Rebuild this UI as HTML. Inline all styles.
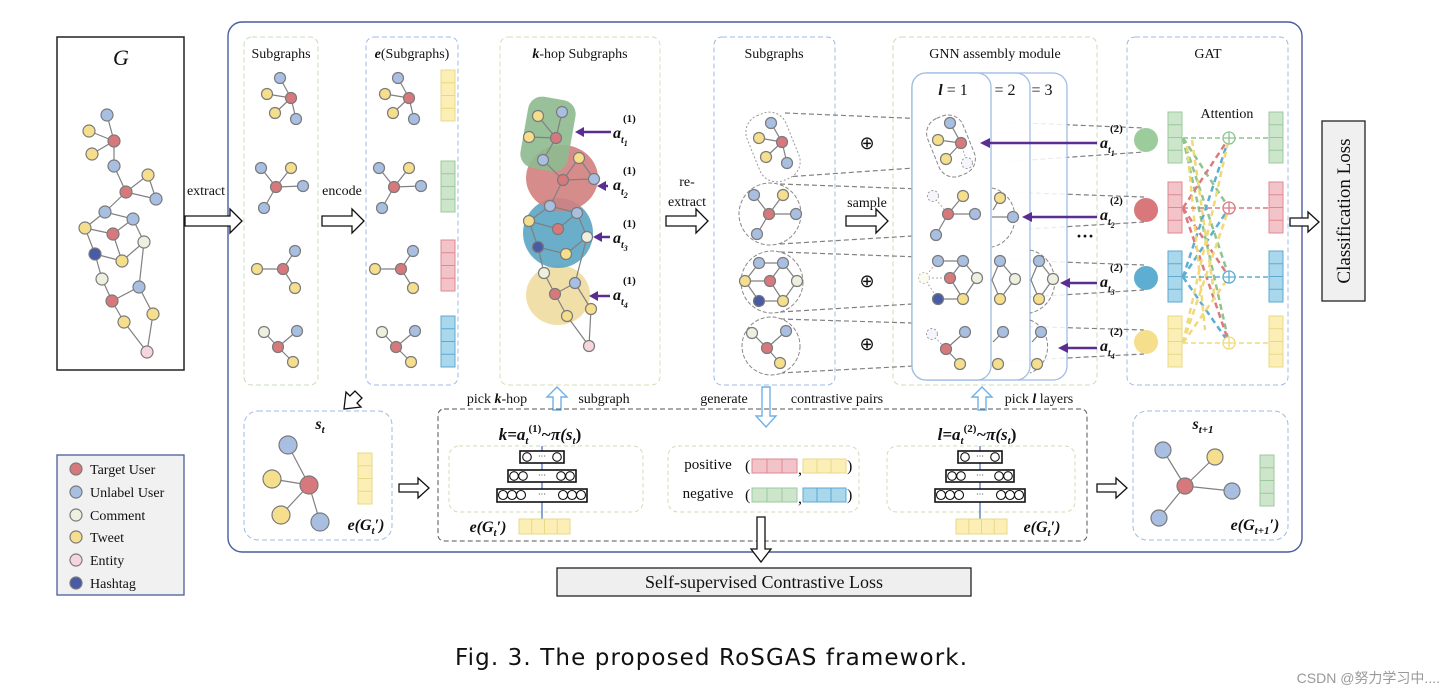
<!DOCTYPE html>
<html><head><meta charset="utf-8"><style>
html,body{margin:0;padding:0;background:#fff}
svg{display:block}
text{font-family:"Liberation Serif",serif;fill:#111}
.n{stroke:#7a7a7a;stroke-width:1.2}
.r{fill:#d7797c}.b{fill:#a9bfe2}.c{fill:#eef0df}.y{fill:#f6df8c}.e{fill:#f6d6dc}.h{fill:#4a5ba6}
.d{fill:#fff;stroke:#999;stroke-dasharray:2 2}
.ed{stroke:#808080;stroke-width:1.2;fill:none}
.ha{fill:#fff;stroke:#111;stroke-width:1.3}
.hb{fill:#fff;stroke:#6fb0e6;stroke-width:1.4}
.gd{fill:none;stroke:#808080;stroke-width:1.2;stroke-dasharray:5 3}
</style></head><body>
<svg width="1454" height="694" viewBox="0 0 1454 694" xmlns="http://www.w3.org/2000/svg">
<defs>
<g id="barY"><rect x="0" y="0" width="14" height="51" fill="#fbefb6" stroke="#ead888"/><path d="M0 12.75H14M0 25.5H14M0 38.25H14" stroke="#ead888"/></g>
<g id="barG"><rect x="0" y="0" width="14" height="51" fill="#cce5cb" stroke="#9cc99c"/><path d="M0 12.75H14M0 25.5H14M0 38.25H14" stroke="#9cc99c"/></g>
<g id="barR"><rect x="0" y="0" width="14" height="51" fill="#f2c4ca" stroke="#dc8a90"/><path d="M0 12.75H14M0 25.5H14M0 38.25H14" stroke="#dc8a90"/></g>
<g id="barB"><rect x="0" y="0" width="14" height="51" fill="#a9d7ec" stroke="#5fa9cf"/><path d="M0 12.75H14M0 25.5H14M0 38.25H14" stroke="#5fa9cf"/></g>
<g id="hbarY"><rect x="0" y="0" width="51" height="15" fill="#fbefb6" stroke="#ead888"/><path d="M12.75 0V15M25.5 0V15M38.25 0V15" stroke="#ead888"/></g>
<g id="s1"><path class="ed" d="M-11 -20L0 0M-24 -4L0 0M-16 15L0 0M5 21L0 0"/><circle class="n b" cx="-11" cy="-20" r="5.5"/><circle class="n y" cx="-24" cy="-4" r="5.5"/><circle class="n r" cx="0" cy="0" r="5.5"/><circle class="n y" cx="-16" cy="15" r="5.5"/><circle class="n b" cx="5" cy="21" r="5.5"/></g>
<g id="s2"><path class="ed" d="M-15 -19L0 0M15 -19L0 0M27 -1L0 0M-12 21L0 0"/><circle class="n b" cx="-15" cy="-19" r="5.5"/><circle class="n y" cx="15" cy="-19" r="5.5"/><circle class="n r" cx="0" cy="0" r="5.5"/><circle class="n b" cx="27" cy="-1" r="5.5"/><circle class="n b" cx="-12" cy="21" r="5.5"/></g>
<g id="s3"><path class="ed" d="M12 -18L0 0M-26 0L0 0M12 19L0 0"/><circle class="n b" cx="12" cy="-18" r="5.5"/><circle class="n y" cx="-26" cy="0" r="5.5"/><circle class="n r" cx="0" cy="0" r="5.5"/><circle class="n y" cx="12" cy="19" r="5.5"/></g>
<g id="s4"><path class="ed" d="M-14 -15L0 0M19 -16L0 0M15 15L0 0"/><circle class="n c" cx="-14" cy="-15" r="5.5"/><circle class="n b" cx="19" cy="-16" r="5.5"/><circle class="n r" cx="0" cy="0" r="5.5"/><circle class="n y" cx="15" cy="15" r="5.5"/></g>
</defs>

<!-- G box -->
<rect x="57" y="37" width="127" height="333" fill="#fff" stroke="#222" stroke-width="1.5"/>
<text x="121" y="65" font-size="22" font-style="italic" text-anchor="middle">G</text>
<g class="ed">
<path d="M107 115L114 141M89 131L114 141M92 154L114 141M114 141L114 166M114 166L126 192M126 192L148 175M148 175L156 199M126 192L156 199M126 192L105 212M105 212L133 219M105 212L85 228M85 228L113 234M133 219L113 234M133 219L144 242M113 234L122 261M85 228L95 254M95 254L122 261M122 261L144 242M144 242L139 287M95 254L102 279M102 279L112 301M112 301L139 287M112 301L124 322M139 287L153 314M153 314L147 352M124 322L147 352"/>
</g>
<g>
<circle class="n b" cx="107" cy="115" r="6"/><circle class="n y" cx="89" cy="131" r="6"/><circle class="n r" cx="114" cy="141" r="6"/><circle class="n y" cx="92" cy="154" r="6"/><circle class="n b" cx="114" cy="166" r="6"/><circle class="n r" cx="126" cy="192" r="6"/><circle class="n y" cx="148" cy="175" r="6"/><circle class="n b" cx="156" cy="199" r="6"/><circle class="n b" cx="105" cy="212" r="6"/><circle class="n b" cx="133" cy="219" r="6"/><circle class="n y" cx="85" cy="228" r="6"/><circle class="n r" cx="113" cy="234" r="6"/><circle class="n c" cx="144" cy="242" r="6"/><circle class="n h" cx="95" cy="254" r="6"/><circle class="n y" cx="122" cy="261" r="6"/><circle class="n c" cx="102" cy="279" r="6"/><circle class="n b" cx="139" cy="287" r="6"/><circle class="n r" cx="112" cy="301" r="6"/><circle class="n y" cx="124" cy="322" r="6"/><circle class="n y" cx="153" cy="314" r="6"/><circle class="n e" cx="147" cy="352" r="6"/>
</g>

<!-- main big box -->
<rect x="228" y="22" width="1074" height="530" rx="14" fill="none" stroke="#4a5c9e" stroke-width="1.4"/>

<!-- column boxes -->
<rect x="244" y="37" width="74" height="348" rx="8" fill="none" stroke="#c8dcb8" stroke-dasharray="5 3"/>
<rect x="366" y="37" width="92" height="348" rx="8" fill="none" stroke="#9dbbe4" stroke-dasharray="5 3"/>
<rect x="500" y="37" width="160" height="348" rx="8" fill="none" stroke="#d8dcb8" stroke-dasharray="5 3"/>
<rect x="714" y="37" width="121" height="348" rx="8" fill="none" stroke="#9dbbe4" stroke-dasharray="5 3"/>
<rect x="893" y="37" width="204" height="348" rx="8" fill="none" stroke="#c8dcb0" stroke-dasharray="5 3"/>
<rect x="1127" y="37" width="161" height="348" rx="8" fill="none" stroke="#9dbbe4" stroke-dasharray="5 3"/>

<text x="281" y="58" font-size="14" text-anchor="middle">Subgraphs</text>
<text x="412" y="58" font-size="14" text-anchor="middle"><tspan font-weight="bold" font-style="italic">e</tspan>(Subgraphs)</text>
<text x="580" y="58" font-size="14" text-anchor="middle"><tspan font-weight="bold" font-style="italic">k</tspan>-hop Subgraphs</text>
<text x="774" y="58" font-size="14" text-anchor="middle">Subgraphs</text>
<text x="995" y="58" font-size="14" text-anchor="middle">GNN assembly module</text>
<text x="1208" y="58" font-size="14" text-anchor="middle">GAT</text>

<!-- subgraphs col -->
<use href="#s1" x="291" y="98"/><use href="#s2" x="276" y="187"/><use href="#s3" x="283" y="269"/><use href="#s4" x="278" y="347"/>
<use href="#s1" x="409" y="98"/><use href="#s2" x="394" y="187"/><use href="#s3" x="401" y="269"/><use href="#s4" x="396" y="347"/>
<use href="#barY" x="441" y="70"/><use href="#barG" x="441" y="161"/><use href="#barR" x="441" y="240"/><use href="#barB" x="441" y="316"/>

<!-- arrows extract / encode / re-extract -->
<polygon class="ha" points="185,216 230,216 230,209 242,221 230,233 230,226 185,226"/>
<text x="206" y="195" font-size="14" text-anchor="middle">extract</text>
<polygon class="ha" points="322,216 352,216 352,209 364,221 352,233 352,226 322,226"/>
<text x="342" y="195" font-size="14" text-anchor="middle">encode</text>
<polygon class="ha" points="666,216 696,216 696,209 708,221 696,233 696,226 666,226"/>
<text x="687" y="186" font-size="14" text-anchor="middle">re-</text>
<text x="687" y="206" font-size="14" text-anchor="middle">extract</text>

<!-- k-hop blobs -->
<ellipse cx="558" cy="295" rx="32" ry="30" fill="#efdca0" opacity="0.9"/>
<circle cx="558" cy="233" r="35" fill="#5aa5c4" opacity="0.9"/>
<ellipse cx="562" cy="178" rx="36" ry="33" fill="#d37f80" opacity="0.9"/>
<rect x="524" y="98" width="48" height="72" rx="14" fill="#8fbb90" opacity="0.92" transform="rotate(10 548 134)"/>
<path class="ed" d="M538 116L556 138M562 112L556 138M529 137L556 138M556 138L543 160M543 160L563 180M579 158L563 180M579 158L594 179M563 180L594 179M563 180L550 206M550 206L529 221M550 206L577 213M529 221L558 229M577 213L558 229M577 213L587 237M529 221L538 247M538 247L566 254M566 254L587 237M538 247L544 273M587 237L575 283M544 273L555 294M555 294L575 283M555 294L567 316M575 283L591 309M591 309L589 346M567 316L589 346"/>
<g>
<circle class="n y" cx="538" cy="116" r="5.5"/><circle class="n b" cx="562" cy="112" r="5.5"/><circle class="n y" cx="529" cy="137" r="5.5"/><circle class="n r" cx="556" cy="138" r="5.5"/><circle class="n b" cx="543" cy="160" r="5.5"/><circle class="n y" cx="579" cy="158" r="5.5"/><circle class="n r" cx="563" cy="180" r="5.5"/><circle class="n b" cx="594" cy="179" r="5.5"/><circle class="n b" cx="550" cy="206" r="5.5"/><circle class="n b" cx="577" cy="213" r="5.5"/><circle class="n y" cx="529" cy="221" r="5.5"/><circle class="n r" cx="558" cy="229" r="5.5"/><circle class="n c" cx="587" cy="237" r="5.5"/><circle class="n h" cx="538" cy="247" r="5.5"/><circle class="n y" cx="566" cy="254" r="5.5"/><circle class="n c" cx="544" cy="273" r="5.5"/><circle class="n b" cx="575" cy="283" r="5.5"/><circle class="n r" cx="555" cy="294" r="5.5"/><circle class="n y" cx="591" cy="309" r="5.5"/><circle class="n y" cx="567" cy="316" r="5.5"/><circle class="n e" cx="589" cy="346" r="5.5"/>
</g>
<g stroke="#5b2d91" stroke-width="2.5" fill="#5b2d91">
<path d="M611 132H582"/><polygon points="575,132 584,127 584,137" stroke="none"/>
<path d="M608 186H603"/><polygon points="597,186 606,181 606,191" stroke="none"/>
<path d="M610 237H600"/><polygon points="593,237 602,232 602,242" stroke="none"/>
<path d="M610 296H596"/><polygon points="589,296 598,291 598,301" stroke="none"/>
</g>
<g font-size="16" font-weight="bold" font-style="italic">
<text x="613" y="138">a<tspan font-size="10" dy="5">t</tspan><tspan font-size="8" dy="3">1</tspan></text><text x="623" y="122" font-size="11" font-style="normal">(1)</text>
<text x="613" y="190">a<tspan font-size="10" dy="5">t</tspan><tspan font-size="8" dy="3">2</tspan></text><text x="623" y="174" font-size="11" font-style="normal">(1)</text>
<text x="613" y="243">a<tspan font-size="10" dy="5">t</tspan><tspan font-size="8" dy="3">3</tspan></text><text x="623" y="227" font-size="11" font-style="normal">(1)</text>
<text x="613" y="300">a<tspan font-size="10" dy="5">t</tspan><tspan font-size="8" dy="3">4</tspan></text><text x="623" y="284" font-size="11" font-style="normal">(1)</text>
</g>

<!-- tubes dashed to GAT circles -->
<g class="gd">
<path d="M785 113L1144 128M785 177L1144 152"/>
<path d="M780 184L1144 197M780 244L1144 222"/>
<path d="M780 252L1144 265M780 312L1144 290"/>
<path d="M780 319L1144 330M780 373L1144 354"/>
</g>

<!-- subgraphs 2 col -->
<rect x="752" y="112" width="42" height="70" rx="18" class="d" transform="rotate(-22 773 147)" fill="#fff" stroke="#888" stroke-dasharray="4 2"/>
<circle cx="770" cy="214" r="31" fill="#fff" stroke="#888" stroke-dasharray="4 2"/>
<circle cx="772" cy="282" r="31" fill="#fff" stroke="#888" stroke-dasharray="4 2"/>
<circle cx="771" cy="346" r="29" fill="#fff" stroke="#888" stroke-dasharray="4 2"/>
<path class="ed" d="M771 123L782 142M759 138L782 142M766 157L782 142M787 163L782 142"/>
<circle class="n b" cx="771" cy="123" r="5.5"/><circle class="n y" cx="759" cy="138" r="5.5"/><circle class="n r" cx="782" cy="142" r="5.5"/><circle class="n y" cx="766" cy="157" r="5.5"/><circle class="n b" cx="787" cy="163" r="5.5"/>
<path class="ed" d="M754 195L769 214M783 195L769 214M796 214L769 214M757 234L769 214"/>
<circle class="n b" cx="754" cy="195" r="5.5"/><circle class="n y" cx="783" cy="195" r="5.5"/><circle class="n r" cx="769" cy="214" r="5.5"/><circle class="n b" cx="796" cy="214" r="5.5"/><circle class="n b" cx="757" cy="234" r="5.5"/>
<path class="ed" d="M759 263H783M759 263L745 281M745 281L759 301M759 301H783M783 263L797 281M797 281L783 301M745 281H770M770 281L783 263M770 281L783 301"/>
<circle class="n b" cx="759" cy="263" r="5.5"/><circle class="n b" cx="783" cy="263" r="5.5"/><circle class="n y" cx="745" cy="281" r="5.5"/><circle class="n r" cx="770" cy="281" r="5.5"/><circle class="n c" cx="797" cy="281" r="5.5"/><circle class="n h" cx="759" cy="301" r="5.5"/><circle class="n y" cx="783" cy="301" r="5.5"/>
<path class="ed" d="M752 333L767 348M786 331L767 348M780 363L767 348"/>
<circle class="n c" cx="752" cy="333" r="5.5"/><circle class="n b" cx="786" cy="331" r="5.5"/><circle class="n r" cx="767" cy="348" r="5.5"/><circle class="n y" cx="780" cy="363" r="5.5"/>
<g font-size="18" fill="#444" text-anchor="middle"><text x="867" y="149">⊕</text><text x="867" y="287">⊕</text><text x="867" y="350">⊕</text></g>
<text x="867" y="207" font-size="14" text-anchor="middle">sample</text>
<polygon class="ha" points="846,216 876,216 876,209 888,221 876,233 876,226 846,226"/>

<!-- l panels -->
<rect x="912" y="73" width="155" height="307" rx="14" fill="#fff" fill-opacity="0.85" stroke="#9fbde3" stroke-width="1.3"/>
<rect x="912" y="73" width="118" height="307" rx="14" fill="#fff" fill-opacity="0.85" stroke="#9fbde3" stroke-width="1.3"/>
<rect x="912" y="73" width="79" height="307" rx="14" fill="#fff" fill-opacity="0.85" stroke="#9fbde3" stroke-width="1.3"/>
<text x="953" y="95" font-size="16" text-anchor="middle"><tspan font-weight="bold" font-style="italic">l</tspan> = 1</text>
<text x="1005" y="95" font-size="16" text-anchor="middle">= 2</text>
<text x="1042" y="95" font-size="16" text-anchor="middle">= 3</text>
<!-- l row1 -->
<rect x="932" y="115" width="38" height="62" rx="16" fill="none" stroke="#888" stroke-dasharray="4 2" transform="rotate(-22 951 146)"/>
<path class="ed" d="M950 123L961 143M938 140L961 143M946 159L961 143"/><path d="M961 143L967 163" stroke="#aaa" stroke-dasharray="2 2"/>
<circle class="n b" cx="950" cy="123" r="5.5"/><circle class="n y" cx="938" cy="140" r="5.5"/><circle class="n r" cx="961" cy="143" r="5.5"/><circle class="n y" cx="946" cy="159" r="5.5"/><circle cx="967" cy="163" r="5.5" fill="#f4f6fb" stroke="#999" stroke-dasharray="2 2"/>
<!-- row2 -->
<path class="ed" d="M963 196L948 214M975 214H948M936 235L948 214"/><path d="M933 196L948 214" stroke="#aaa" stroke-dasharray="2 2"/>
<circle cx="933" cy="196" r="5.5" fill="#f4f6fb" stroke="#999" stroke-dasharray="2 2"/><circle class="n y" cx="963" cy="196" r="5.5"/><circle class="n r" cx="948" cy="214" r="5.5"/><circle class="n b" cx="975" cy="214" r="5.5"/><circle class="n b" cx="936" cy="235" r="5.5"/>
<path d="M992 188A28 30 0 0 1 992 247" fill="none" stroke="#888" stroke-dasharray="4 2"/>
<path class="ed" d="M1000 198L993 210M1013 217H992"/><circle class="n y" cx="1000" cy="198" r="5.5"/><circle class="n b" cx="1013" cy="217" r="5.5"/>
<!-- row3 -->
<path class="ed" d="M938 261H963M963 261L977 278M977 278L963 299M963 299H938M950 278L963 261M950 278L963 299"/><path d="M924 278H950M924 278L938 261M924 278L938 299" stroke="#aaa" stroke-dasharray="2 2"/>
<circle class="n b" cx="938" cy="261" r="5.5"/><circle class="n b" cx="963" cy="261" r="5.5"/><circle cx="924" cy="278" r="5.5" fill="#fbfbef" stroke="#bbb" stroke-dasharray="2 2"/><circle class="n r" cx="950" cy="278" r="5.5"/><circle class="n c" cx="977" cy="278" r="5.5"/><circle class="n h" cx="938" cy="299" r="5.5"/><circle class="n y" cx="963" cy="299" r="5.5"/>
<path class="ed" d="M1000 261L1015 279M1015 279L1000 299M1000 261L992 280L1000 299"/><circle class="n b" cx="1000" cy="261" r="5.5"/><circle class="n c" cx="1015" cy="279" r="5.5"/><circle class="n y" cx="1000" cy="299" r="5.5"/>
<path d="M1030 250A30 32 0 0 1 1030 313" fill="none" stroke="#888" stroke-dasharray="4 2"/>
<path class="ed" d="M1039 261L1053 279M1053 279L1039 299M1039 261L1031 280L1039 299"/><circle class="n b" cx="1039" cy="261" r="5.5"/><circle class="n c" cx="1053" cy="279" r="5.5"/><circle class="n y" cx="1039" cy="299" r="5.5"/>
<!-- row4 -->
<path class="ed" d="M965 332L946 349M960 364L946 349"/><path d="M932 334L946 349" stroke="#aaa" stroke-dasharray="2 2"/>
<circle cx="932" cy="334" r="5.5" fill="#f4f6fb" stroke="#999" stroke-dasharray="2 2"/><circle class="n b" cx="965" cy="332" r="5.5"/><circle class="n r" cx="946" cy="349" r="5.5"/><circle class="n y" cx="960" cy="364" r="5.5"/>
<path class="ed" d="M1003 332L993 342"/><circle class="n b" cx="1003" cy="332" r="5.5"/><circle class="n y" cx="998" cy="364" r="5.5"/>
<path d="M1030 320A26 28 0 0 1 1030 373" fill="none" stroke="#888" stroke-dasharray="4 2"/>
<path class="ed" d="M1041 332L1032 342"/><circle class="n b" cx="1041" cy="332" r="5.5"/><circle class="n y" cx="1037" cy="364" r="5.5"/>
<text x="1085" y="242" font-size="18" text-anchor="middle" font-weight="bold">···</text>

<!-- purple arrows to l panels -->
<g stroke="#5b2d91" stroke-width="2.5" fill="#5b2d91">
<path d="M1097 143H988"/><polygon points="980,143 990,138 990,148" stroke="none"/>
<path d="M1097 217H1030"/><polygon points="1022,217 1032,212 1032,222" stroke="none"/>
<path d="M1097 283H1068"/><polygon points="1060,283 1070,278 1070,288" stroke="none"/>
<path d="M1097 348H1066"/><polygon points="1058,348 1068,343 1068,353" stroke="none"/>
</g>
<g font-size="16" font-weight="bold" font-style="italic">
<text x="1100" y="148">a<tspan font-size="10" dy="5">t</tspan><tspan font-size="8" dy="3">1</tspan></text><text x="1110" y="132" font-size="11" font-style="normal">(2)</text>
<text x="1100" y="220">a<tspan font-size="10" dy="5">t</tspan><tspan font-size="8" dy="3">2</tspan></text><text x="1110" y="204" font-size="11" font-style="normal">(2)</text>
<text x="1100" y="287">a<tspan font-size="10" dy="5">t</tspan><tspan font-size="8" dy="3">3</tspan></text><text x="1110" y="271" font-size="11" font-style="normal">(2)</text>
<text x="1100" y="351">a<tspan font-size="10" dy="5">t</tspan><tspan font-size="8" dy="3">4</tspan></text><text x="1110" y="335" font-size="11" font-style="normal">(2)</text>
</g>

<!-- GAT -->
<circle cx="1146" cy="140" r="12" fill="#9ccb9c"/><circle cx="1146" cy="210" r="12" fill="#d9787a"/><circle cx="1146" cy="278" r="12" fill="#5eaed1"/><circle cx="1146" cy="342" r="12" fill="#f6df8c"/>
<text x="1227" y="118" font-size="14" text-anchor="middle">Attention</text>
<g stroke-width="2.5" stroke-dasharray="6 4" fill="none">
<path d="M1183 138L1229 208M1183 138L1229 277M1183 138L1229 343" stroke="#8fc48f"/>
<path d="M1183 208L1229 138M1183 208L1229 277M1183 208L1229 343" stroke="#d97b80"/>
<path d="M1183 277L1229 138M1183 277L1229 208M1183 277L1229 343" stroke="#5eaed1"/>
<path d="M1183 343L1229 138M1183 343L1229 208M1183 343L1229 277" stroke="#f1d97a"/>
<path d="M1187 146L1205 330M1192 140L1215 300" stroke="#f1d97a"/>
</g>
<g stroke-dasharray="5 3" stroke-width="1.5">
<path d="M1183 138H1269" stroke="#8fc48f"/><path d="M1183 208H1269" stroke="#d97b80"/><path d="M1183 277H1269" stroke="#5eaed1"/><path d="M1183 343H1269" stroke="#f1d97a"/>
</g>
<g fill="#fff" stroke-width="1.3">
<circle cx="1229" cy="138" r="6" stroke="#8fc48f"/><path d="M1223 138H1235M1229 132V144" stroke="#8fc48f"/>
<circle cx="1229" cy="208" r="6" stroke="#d97b80"/><path d="M1223 208H1235M1229 202V214" stroke="#d97b80"/>
<circle cx="1229" cy="277" r="6" stroke="#5eaed1"/><path d="M1223 277H1235M1229 271V283" stroke="#5eaed1"/>
<circle cx="1229" cy="343" r="6" stroke="#f1d97a"/><path d="M1223 343H1235M1229 337V349" stroke="#f1d97a"/>
</g>
<use href="#barG" x="1168" y="112"/><use href="#barR" x="1168" y="182"/><use href="#barB" x="1168" y="251"/><use href="#barY" x="1168" y="316"/>
<use href="#barG" x="1269" y="112"/><use href="#barR" x="1269" y="182"/><use href="#barB" x="1269" y="251"/><use href="#barY" x="1269" y="316"/>

<!-- classification -->
<polygon class="ha" points="1290,218 1308,218 1308,212 1319,222 1308,232 1308,226 1290,226"/>
<rect x="1322" y="121" width="43" height="180" fill="#f0f0f0" stroke="#222" stroke-width="1.3"/>
<text transform="translate(1350 211) rotate(-90)" font-size="19" text-anchor="middle">Classification Loss</text>

<!-- bottom labels with arrows -->
<polygon class="ha" points="355,391 350,396 346,392 344,409 361,407 357,403 362,398" />
<text x="497" y="403" font-size="14" text-anchor="middle">pick <tspan font-weight="bold" font-style="italic">k</tspan>-hop</text>
<polygon class="hb" points="553,410 553,397 547,397 557,387 567,397 561,397 561,410"/>
<text x="604" y="403" font-size="14" text-anchor="middle">subgraph</text>
<text x="724" y="403" font-size="14" text-anchor="middle">generate</text>
<polygon class="hb" points="762,387 770,387 770,416 776,416 766,427 756,416 762,416"/>
<text x="837" y="403" font-size="14" text-anchor="middle">contrastive pairs</text>
<polygon class="hb" points="978,410 978,397 972,397 982,387 992,397 986,397 986,410"/>
<text x="1039" y="403" font-size="14" text-anchor="middle">pick <tspan font-weight="bold" font-style="italic">l</tspan> layers</text>

<!-- s_t box -->
<rect x="244" y="411" width="148" height="129" rx="14" fill="none" stroke="#9dbbe4" stroke-dasharray="5 3"/>
<text x="320" y="429" font-size="16" font-weight="bold" font-style="italic" text-anchor="middle">s<tspan font-size="11" dy="4">t</tspan></text>
<path class="ed" d="M288 445L309 485M272 479L309 485M281 515L309 485M320 522L309 485"/>
<circle class="n b" cx="288" cy="445" r="9"/><circle class="n y" cx="272" cy="479" r="9"/><circle class="n r" cx="309" cy="485" r="9"/><circle class="n y" cx="281" cy="515" r="9"/><circle class="n b" cx="320" cy="522" r="9"/>
<use href="#barY" x="358" y="453"/>
<text x="366" y="530" font-size="16" font-weight="bold" font-style="italic" text-anchor="middle">e(G<tspan font-size="11" dy="4">t</tspan><tspan dy="-4">′)</tspan></text>
<polygon class="ha" points="399,484 418,484 418,478 429,488 418,498 418,492 399,492"/>

<!-- middle box -->
<rect x="438" y="409" width="649" height="132" rx="6" fill="none" stroke="#555" stroke-dasharray="5 3"/>
<rect x="449" y="446" width="194" height="66" rx="10" fill="none" stroke="#cfdcb0" stroke-dasharray="4 3"/>
<rect x="668" y="446" width="191" height="66" rx="10" fill="none" stroke="#cfdcb0" stroke-dasharray="4 3"/>
<rect x="887" y="446" width="188" height="66" rx="10" fill="none" stroke="#cfdcb0" stroke-dasharray="4 3"/>
<text x="540" y="440" font-size="17" font-weight="bold" font-style="italic" text-anchor="middle">k=a<tspan font-size="11" dy="4">t</tspan><tspan font-size="11" dy="-12" font-style="normal">(1)</tspan><tspan dy="8">~π(s</tspan><tspan font-size="11" dy="4">t</tspan><tspan dy="-4" font-style="normal">)</tspan></text>
<text x="977" y="440" font-size="17" font-weight="bold" font-style="italic" text-anchor="middle">l=a<tspan font-size="11" dy="4">t</tspan><tspan font-size="11" dy="-12" font-style="normal">(2)</tspan><tspan dy="8">~π(s</tspan><tspan font-size="11" dy="4">t</tspan><tspan dy="-4" font-style="normal">)</tspan></text>
<!-- networks -->
<g id="net">
<path d="M542 519V446" stroke="#4a74c4" stroke-width="1.3"/>
<rect x="520" y="451" width="44" height="12" fill="#fff" stroke="#111" stroke-width="1.6"/>
<rect x="508" y="470" width="68" height="12" fill="#fff" stroke="#111" stroke-width="1.6"/>
<rect x="497" y="489" width="90" height="13" fill="#fff" stroke="#111" stroke-width="1.6"/>
<g fill="none" stroke="#111" stroke-width="1.1">
<circle cx="527" cy="457" r="4.3"/><circle cx="557" cy="457" r="4.3"/>
<circle cx="514" cy="476" r="4.3"/><circle cx="523" cy="476" r="4.3"/><circle cx="561" cy="476" r="4.3"/><circle cx="570" cy="476" r="4.3"/>
<circle cx="503" cy="495" r="4.5"/><circle cx="512" cy="495" r="4.5"/><circle cx="521" cy="495" r="4.5"/><circle cx="563" cy="495" r="4.5"/><circle cx="572" cy="495" r="4.5"/><circle cx="581" cy="495" r="4.5"/>
</g>
<text x="542" y="459" font-size="8" text-anchor="middle">···</text><text x="542" y="478" font-size="8" text-anchor="middle">···</text><text x="542" y="497" font-size="8" text-anchor="middle">···</text>
</g>
<use href="#net" x="438" y="0"/>
<use href="#hbarY" x="519" y="519"/>
<use href="#hbarY" x="956" y="519"/>
<text x="488" y="532" font-size="16" font-weight="bold" font-style="italic" text-anchor="middle">e(G<tspan font-size="11" dy="4">t</tspan><tspan dy="-4">′)</tspan></text>
<text x="1042" y="532" font-size="16" font-weight="bold" font-style="italic" text-anchor="middle">e(G<tspan font-size="11" dy="4">t</tspan><tspan dy="-4">′)</tspan></text>
<!-- pos/neg -->
<text x="708" y="469" font-size="15" text-anchor="middle">positive</text>
<text x="708" y="498" font-size="15" text-anchor="middle">negative</text>
<text x="745" y="471" font-size="16">(</text><text x="798" y="474" font-size="16">,</text><text x="847" y="471" font-size="16">)</text>
<text x="745" y="500" font-size="16">(</text><text x="798" y="503" font-size="16">,</text><text x="847" y="500" font-size="16">)</text>
<g stroke-width="1">
<rect x="752" y="459" width="45" height="14" fill="#f2c4ca" stroke="#dc8a90"/><path d="M767 459V473M782 459V473" stroke="#dc8a90"/>
<rect x="803" y="459" width="43" height="14" fill="#fbefb6" stroke="#ead888"/><path d="M817 459V473M831 459V473" stroke="#ead888"/>
<rect x="752" y="488" width="45" height="14" fill="#cce5cb" stroke="#9cc99c"/><path d="M767 488V502M782 488V502" stroke="#9cc99c"/>
<rect x="803" y="488" width="43" height="14" fill="#a9d7ec" stroke="#5fa9cf"/><path d="M817 488V502M831 488V502" stroke="#5fa9cf"/>
</g>
<polygon class="ha" points="757,517 765,517 765,549 771,549 761,562 751,549 757,549"/>
<polygon class="ha" points="1097,484 1116,484 1116,478 1127,488 1116,498 1116,492 1097,492"/>

<!-- s_t+1 box -->
<rect x="1133" y="411" width="155" height="129" rx="14" fill="none" stroke="#9dbbe4" stroke-dasharray="5 3"/>
<text x="1203" y="429" font-size="16" font-weight="bold" font-style="italic" text-anchor="middle">s<tspan font-size="11" dy="4">t+1</tspan></text>
<path class="ed" d="M1163 450L1185 486M1215 457L1185 486M1232 491L1185 486M1159 518L1185 486"/>
<circle class="n b" cx="1163" cy="450" r="8"/><circle class="n y" cx="1215" cy="457" r="8"/><circle class="n r" cx="1185" cy="486" r="8"/><circle class="n b" cx="1232" cy="491" r="8"/><circle class="n b" cx="1159" cy="518" r="8"/>
<use href="#barG" x="1260" y="455"/>
<text x="1255" y="530" font-size="16" font-weight="bold" font-style="italic" text-anchor="middle">e(G<tspan font-size="11" dy="4">t+1</tspan><tspan dy="-4">′)</tspan></text>

<!-- contrastive loss -->
<rect x="557" y="568" width="414" height="28" fill="#efefef" stroke="#222" stroke-width="1.3"/>
<text x="764" y="588" font-size="18" text-anchor="middle">Self-supervised Contrastive Loss</text>

<!-- legend -->
<rect x="57" y="455" width="127" height="140" fill="#f1f1f1" stroke="#4a5c9e" stroke-width="1.3"/>
<g font-size="14">
<circle class="n r" cx="76" cy="469" r="6"/><text x="90" y="474">Target User</text>
<circle class="n b" cx="76" cy="492" r="6"/><text x="90" y="497">Unlabel User</text>
<circle class="n c" cx="76" cy="515" r="6"/><text x="90" y="520">Comment</text>
<circle class="n y" cx="76" cy="537" r="6"/><text x="90" y="542">Tweet</text>
<circle class="n e" cx="76" cy="560" r="6"/><text x="90" y="565">Entity</text>
<circle class="n h" cx="76" cy="583" r="6"/><text x="90" y="588">Hashtag</text>
</g>

<text x="711" y="665" font-size="23" text-anchor="middle" textLength="512" style="font-family:'DejaVu Sans',sans-serif">Fig. 3.  The proposed RoSGAS framework.</text>
<text x="1440" y="683" font-size="14" text-anchor="end" fill="#888" style="font-family:'Liberation Sans','Noto Sans CJK SC',sans-serif;fill:#999">CSDN @努力学习中....</text>
</svg>
</body></html>
